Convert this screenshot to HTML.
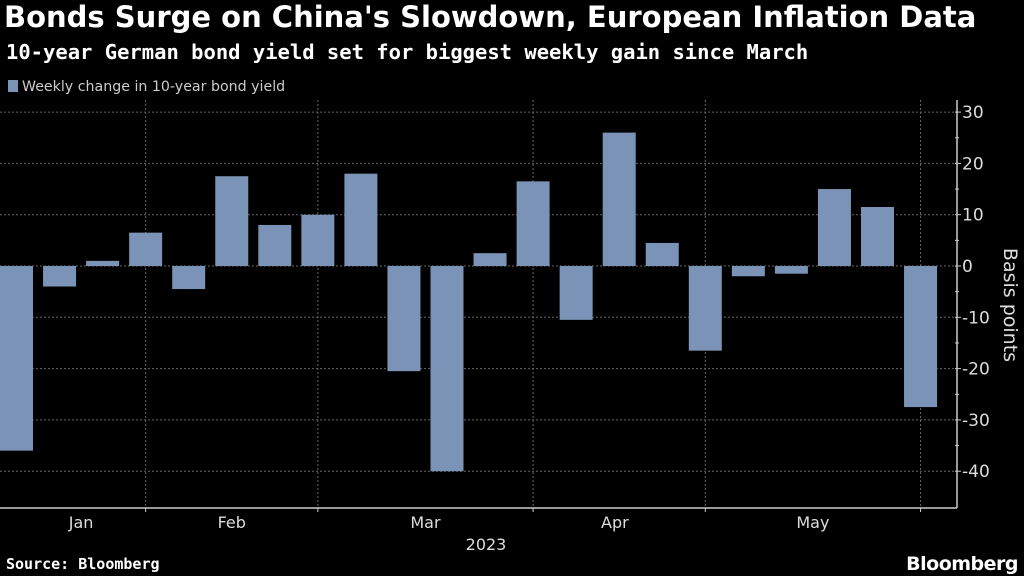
<!DOCTYPE html>
<html><head><meta charset="utf-8"><style>
body{margin:0;background:#000;width:1024px;height:576px;overflow:hidden;font-family:"DejaVu Sans","Liberation Sans",sans-serif;color:#fff}
.t{position:absolute;left:4px;top:0px;font-size:29px;font-weight:bold;font-family:"DejaVu Sans","Liberation Sans",sans-serif;letter-spacing:0px;white-space:nowrap}
.s{position:absolute;left:6px;top:40px;font-size:20.5px;font-weight:bold;font-family:"DejaVu Sans Mono","Liberation Mono",monospace;letter-spacing:0px;white-space:nowrap}
</style></head><body>
<div class="t">Bonds Surge on China's Slowdown, European Inflation Data</div>
<div class="s">10-year German bond yield set for biggest weekly gain since March</div>
<svg id="c" width="1024" height="576" style="position:absolute;left:0;top:0"></svg>
<script>
const categories=["w1","w2","w3","w4","w5","w6","w7","w8","w9","w10","w11","w12","w13","w14","w15","w16","w17","w18","w19","w20","w21","w22"];
const values=[-36,-4,1,6.5,-4.5,17.5,8,10,18,-20.5,-40,2.5,16.5,-10.5,26,4.5,-16.5,-2,-1.5,15,11.5,-27.5];
const yTicks=[30,20,10,0,-10,-20,-30,-40];
const months=["Jan","Feb","Mar","Apr","May"];
const monthPos=[1.5,5.0,9.5,13.9,18.5];
const monthBounds=[3,7,12,16,21];
const NS="http://www.w3.org/2000/svg";
const svg=document.getElementById('c');
const y=v=>266-v*5.13;
const x=i=>i*43.05;
const bw=33;
function el(t,a,p){const e=document.createElementNS(NS,t);for(const k in a)e.setAttribute(k,a[k]);(p||svg).appendChild(e);return e;}
let lg=el('rect',{x:8,y:80,width:10,height:12,fill:'#7b93b7'});


let lt=el('text',{x:22,y:91,fill:'#ccc','font-size':14.2});lt.textContent='Weekly change in 10-year bond yield';


yTicks.forEach(v=>{
 let g=el('line',{x1:0,x2:955,y1:y(v),y2:y(v),stroke:'#666','stroke-dasharray':'2,2','stroke-width':1});
 
 
 el('line',{x1:955,x2:961,y1:y(v),y2:y(v),stroke:'#ccc'});
 if(v<30) el('line',{x1:955,x2:959,y1:y(v+5),y2:y(v+5),stroke:'#ccc'});
 let t=el('text',{x:962,y:y(v)+6,fill:'#ddd','font-size':17});t.textContent=v;
 
 
});
monthBounds.forEach(b=>{
 const xx=x(b)+bw/2;
 let g=el('line',{x1:xx,x2:xx,y1:100,y2:508,stroke:'#666','stroke-dasharray':'2,2'});
 
 
 el('line',{x1:xx,x2:xx,y1:508,y2:512,stroke:'#ccc'});
});
values.forEach((v,i)=>{
 let r=el('rect',{x:x(i),y:Math.min(y(v),y(0)),width:bw,height:Math.abs(y(v)-y(0)),fill:'#7b93b7'});
 
 
});
el('line',{x1:957,x2:957,y1:100,y2:508,stroke:'#ccc','stroke-width':1.5});
el('line',{x1:0,x2:957,y1:508,y2:508,stroke:'#ccc','stroke-width':1.5});
months.forEach((m,i)=>{
 let t=el('text',{x:x(monthPos[i])+bw/2,y:528,fill:'#ddd','font-size':16,'text-anchor':'middle'});t.textContent=m;
 
 
});
let yr=el('text',{x:486,y:550,fill:'#ddd','font-size':16,'text-anchor':'middle'});yr.textContent='2023';


let ya=el('text',{x:0,y:0,fill:'#ddd','font-size':19,'text-anchor':'middle',transform:'translate(1004,305) rotate(90)'});ya.textContent='Basis points';


let src=el('text',{x:6,y:569,fill:'#fff','font-size':15,'font-weight':'bold','font-family':'DejaVu Sans Mono, monospace'});src.textContent='Source: Bloomberg';


let bb=el('text',{x:1018,y:570,fill:'#fff','font-size':19,'font-weight':'bold','text-anchor':'end','letter-spacing':'-0.5'});bb.textContent='Bloomberg';


</script>
</body></html>
